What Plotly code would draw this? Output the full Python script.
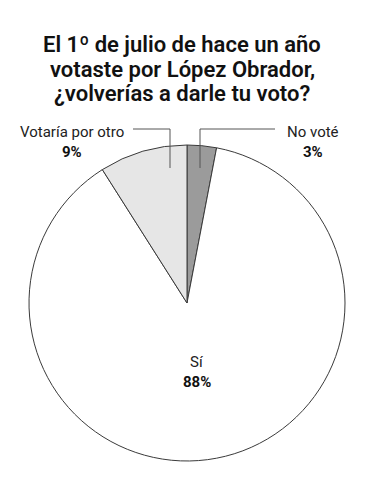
import plotly.graph_objects as go

categories = ["No voté", "Sí", "Votaría por otro"]
values = [3, 88, 9]
value_labels = ["3%", "88%", "9%"]
colors = ["#9b9b9b", "#ffffff", "#e6e6e6"]

W, H = 390, 500
OFF = 8  # page body margin
cx, cy, r = 187 - OFF, 303 - OFF, 158

fig = go.Figure(go.Pie(
    labels=categories, values=values, sort=False, direction="clockwise", rotation=0,
    marker=dict(colors=colors, line=dict(color="#3a3a3a", width=1)),
    textinfo="none", hoverinfo="label+percent", showlegend=False,
    domain=dict(x=[(cx - r) / W, (cx + r) / W], y=[1 - (cy + r) / H, 1 - (cy - r) / H]),
))

def px(x):
    return (x - OFF) / W

def py(y):
    return 1 - (y - OFF) / H

font_main = "Roboto"
ann = []
title_lines = ["El 1º de julio de hace un año", "votaste por López Obrador,", "¿volverías a darle tu voto?"]
for i, t in enumerate(title_lines):
    ann.append(dict(x=px(182), y=py(45 + i * 24), text=t, showarrow=False, xref="paper", yref="paper",
                    font=dict(family=font_main, size=22, color="#111", weight=600), xanchor="center", yanchor="middle"))

label_pos = [(313, 132), (197, 362), (72, 132)]
for (x, y), c, v in zip(label_pos, categories, value_labels):
    ann.append(dict(x=px(x), y=py(y), text=c, showarrow=False, xref="paper", yref="paper",
                    font=dict(family=font_main, size=15, color="#222"), xanchor="center", yanchor="middle"))
    ann.append(dict(x=px(x), y=py(y + 20), text="<b>" + v + "</b>", showarrow=False, xref="paper", yref="paper",
                    font=dict(family=font_main, size=15, color="#111"), xanchor="center", yanchor="middle"))

shapes = []
for pts in [[(275, 129), (200, 129), (200, 168)], [(133, 129), (170, 129), (170, 168)]]:
    path = "M " + " L ".join(f"{px(x)},{py(y)}" for x, y in pts)
    shapes.append(dict(type="path", path=path, xref="paper", yref="paper", line=dict(color="#555", width=1)))

fig.update_layout(width=W, height=H, margin=dict(l=0, r=0, t=0, b=0), paper_bgcolor="white",
                  plot_bgcolor="white", annotations=ann, shapes=shapes)
fig.write_html("out.html")
